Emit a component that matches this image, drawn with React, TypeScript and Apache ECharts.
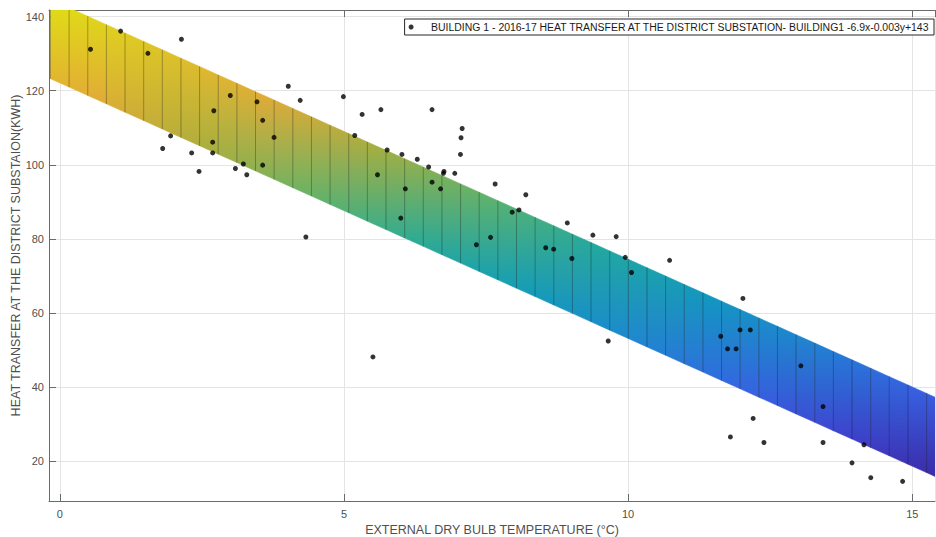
import React, { useEffect, useRef } from "react";
import * as echarts from "echarts";

// ---- scatter data ----
const temperature = [
  0.54, 1.07, 1.55, 2.14, 3.0, 2.71, 3.47, 4.02, 4.23, 3.57, 3.77, 1.95, 1.81, 2.69, 2.32, 2.69, 2.45, 3.09, 3.23, 3.29,
  3.57, 4.99, 5.32, 5.65, 6.55, 7.08, 7.06, 7.05, 5.19, 5.76, 6.02, 6.29, 6.49, 6.76, 6.75, 6.95, 5.59, 6.55, 6.08, 6.7,
  6.0, 7.66, 8.2, 8.08, 7.96, 8.93, 9.38, 9.79, 4.33, 7.33, 7.58, 8.55, 8.69, 9.01, 9.95, 10.06, 10.73, 12.02, 9.65, 11.63,
  11.97, 12.15, 11.75, 11.9, 13.04, 13.43, 12.2, 11.8, 12.39, 13.43, 14.15, 13.94, 14.27, 14.83, 5.51,
];
const heatTransfer = [
  131.2, 136.1, 130.1, 133.9, 118.7, 114.6, 117.0, 121.2, 117.4, 112.0, 107.4, 107.8, 104.4, 106.1, 103.2, 103.2, 98.2, 99.0, 100.2, 97.3,
  99.9, 118.4, 113.6, 114.9, 114.9, 109.8, 107.3, 102.8, 107.9, 104.0, 102.8, 101.5, 99.4, 98.2, 97.7, 97.7, 97.3, 95.3, 93.5, 93.5,
  85.6, 94.8, 91.9, 87.8, 87.2, 84.3, 81.0, 80.6, 80.5, 78.4, 80.4, 77.6, 77.2, 74.7, 75.0, 70.9, 74.2, 63.9, 52.4, 53.7,
  55.4, 55.4, 50.3, 50.3, 45.7, 34.7, 31.5, 26.5, 25.0, 25.0, 24.4, 19.5, 15.5, 14.5, 48.1,
];

// ---- fitted plane: z = intercept + xCoef * x + yCoef * y ----
const fitIntercept = 143.5;
const fitXCoef = -6.9;
const fitYCoef = -0.003;
const secondVarRange = [0, 7130];

// mesh of the fitted surface
const meshXStart = -0.164;
const meshXStep = 0.328;
const meshColumns = 49;

const seriesName = "BUILDING 1 - 2016-17 HEAT TRANSFER AT THE DISTRICT SUBSTATION- BUILDING1 -6.9x-0.003y+143";
const xTitle = "EXTERNAL DRY BULB TEMPERATURE (°C)";
const yTitle = "HEAT TRANSFER AT THE DISTRICT SUBSTAION(KWH)";

// parula (R2017a-like) colormap stops
const parula = [
  "#3e26a8", "#4743e1", "#3e6cfd", "#2294e9", "#12acd1", "#28bdac",
  "#6ec774", "#bec144", "#fdbd3d", "#f7da2c", "#f9fb15",
];

const FONT = "'Liberation Sans', Arial, Helvetica, sans-serif";

function surf(x: number, y: number) {
  return fitIntercept + fitXCoef * x + fitYCoef * y;
}

function hexToRgb(h: string) {
  return [parseInt(h.slice(1, 3), 16), parseInt(h.slice(3, 5), 16), parseInt(h.slice(5, 7), 16)];
}

const zMax = surf(meshXStart, secondVarRange[0]);
const zMin = surf(meshXStart + meshXStep * meshColumns, secondVarRange[1]);
const SHADE = 0.9;

function colorOf(z: number) {
  let t = (z - zMin) / (zMax - zMin);
  t = Math.max(0, Math.min(1, t));
  const p = t * (parula.length - 1);
  const i = Math.min(parula.length - 2, Math.floor(p));
  const f = p - i;
  const a = hexToRgb(parula[i]);
  const b = hexToRgb(parula[i + 1]);
  const c = a.map((v, k) => Math.round((v + (b[k] - v) * f) * SHADE));
  return `rgb(${c[0]},${c[1]},${c[2]})`;
}

export default function App() {
  const ref = useRef<HTMLDivElement>(null);
  useEffect(() => {
    if (!ref.current) return;
    const chart = echarts.init(ref.current, undefined, { renderer: "svg" });
    const columns: number[][] = [];
    for (let i = 0; i < meshColumns; i++) {
      columns.push([meshXStart + i * meshXStep, meshXStart + (i + 1) * meshXStep]);
    }
    const scatterData = temperature.map((t, i) => [t, heatTransfer[i]]);
    const axisColor = "#6b6b6b";
    const textColor = "#4f4f4f";
    chart.setOption({
      animation: false,
      backgroundColor: "#ffffff",
      textStyle: { fontFamily: FONT },
      grid: { left: 49, right: 1, top: 10, bottom: 36, containLabel: false, outerBoundsMode: "none" },
      legend: {
        data: [{ name: seriesName, icon: "circle" }],
        right: 2,
        top: 19,
        itemWidth: 30,
        itemHeight: 5,
        padding: [3, 4, 3, 4],
        borderColor: "#262626",
        borderWidth: 1,
        borderRadius: 0,
        backgroundColor: "#ffffff",
        textStyle: { fontSize: 10.45, color: "#1a1a1a", fontFamily: FONT },
      },
      xAxis: [
        {
          type: "value",
          min: -0.19,
          max: 15.4,
          splitNumber: 3,
          name: xTitle,
          nameLocation: "middle",
          nameGap: 22,
          nameTextStyle: { fontSize: 12.5, color: textColor, fontFamily: FONT },
          axisLine: { show: true, onZero: false, lineStyle: { color: axisColor, width: 1 } },
          axisTick: { show: true, inside: true, length: 7, lineStyle: { color: axisColor } },
          axisLabel: {
            color: textColor,
            fontSize: 11,
            margin: 7,
            showMinLabel: false,
            showMaxLabel: false,
            formatter: (v: number) => (Math.abs(v % 5) < 1e-9 ? String(v) : ""),
          },
          splitLine: { show: true, lineStyle: { color: "#e4e4e4", width: 1 } },
        },
        {
          type: "value",
          position: "top",
          min: -0.19,
          max: 15.4,
          splitNumber: 3,
          axisLine: { show: true, onZero: false, lineStyle: { color: axisColor, width: 1 } },
          axisTick: { show: true, inside: true, length: 7, lineStyle: { color: axisColor } },
          axisLabel: { show: false },
          splitLine: { show: false },
        },
      ],
      yAxis: {
        type: "value",
        min: 9.2,
        max: 141.8,
        splitNumber: 7,
        name: yTitle,
        nameLocation: "middle",
        nameGap: 27,
        nameMoveOverlap: false,
        nameTextStyle: { fontSize: 12.5, color: textColor, fontFamily: FONT },
        axisLine: { show: true, onZero: false, lineStyle: { color: axisColor, width: 1 } },
        axisTick: { show: true, inside: true, length: 7, lineStyle: { color: axisColor } },
        axisLabel: {
          color: textColor,
          fontSize: 11,
          margin: 5,
          showMinLabel: false,
          showMaxLabel: false,
          formatter: (v: number) => (Math.abs(v % 20) < 1e-9 ? String(v) : ""),
        },
        splitLine: { show: true, lineStyle: { color: "#e4e4e4", width: 1 } },
      },
      series: [
        {
          type: "custom",
          name: "surface",
          clip: true,
          z: 2,
          silent: true,
          data: columns,
          renderItem: (params: any, api: any) => {
            const x0 = api.value(0);
            const x1 = api.value(1);
            const yLo = secondVarRange[0];
            const yHi = secondVarRange[1];
            const p0 = api.coord([x0, surf(x0, yLo)]);
            const p1 = api.coord([x1, surf(x1, yLo)]);
            const p2 = api.coord([x1, surf(x1, yHi)]);
            const p3 = api.coord([x0, surf(x0, yHi)]);
            const xm = (x0 + x1) / 2;
            const grad = new echarts.graphic.LinearGradient(0, 0, 0, 1, [
              { offset: 0, color: colorOf(surf(xm, yLo)) },
              { offset: 1, color: colorOf(surf(xm, yHi)) },
            ]);
            return {
              type: "group",
              children: [
                {
                  type: "polygon",
                  shape: { points: [p0, p1, p2, p3] },
                  style: { fill: grad, stroke: grad, lineWidth: 0.6 },
                },
                {
                  type: "line",
                  shape: { x1: p0[0], y1: p0[1], x2: p3[0], y2: p3[1] },
                  style: { stroke: "rgba(0,0,0,0.3)", lineWidth: 1 },
                },
              ],
            };
          },
        },
        {
          type: "scatter",
          name: seriesName,
          data: scatterData,
          symbol: "circle",
          symbolSize: 5,
          z: 5,
          itemStyle: { color: "#000000" },
        },
      ],
    });
    return () => chart.dispose();
  }, []);
  return <div ref={ref} style={{ position: "fixed", left: 0, top: 0, width: 936, height: 537 }} />;
}
